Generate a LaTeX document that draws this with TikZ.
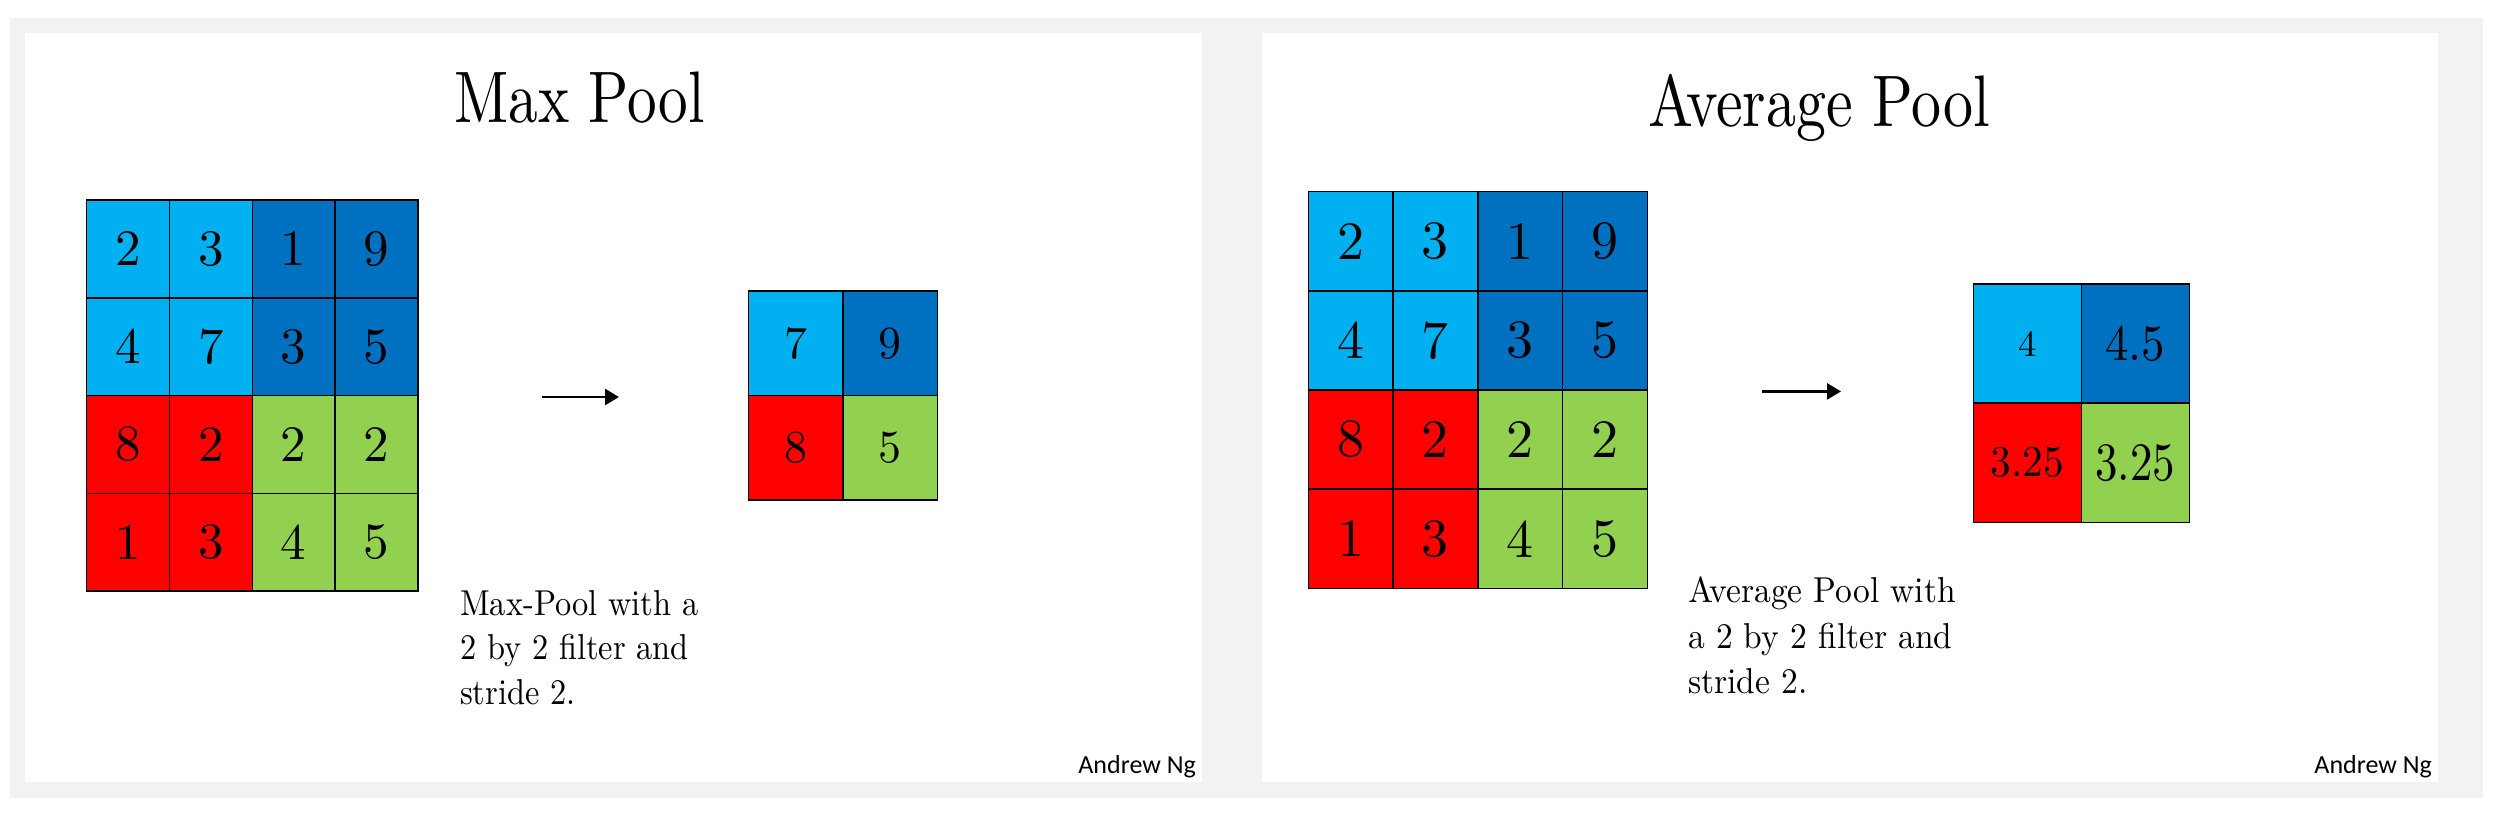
\documentclass[tikz,border=0pt]{standalone}
\usepackage{fontspec}
\usepackage{graphicx}
\setmainfont{lmroman10-regular.otf}
\newfontfamily\ngfont{Carlito}
\usetikzlibrary{arrows.meta}
\definecolor{lblue}{HTML}{00B0F0}
\definecolor{dblue}{HTML}{0070C0}
\definecolor{cred}{HTML}{FF0000}
\definecolor{cgreen}{HTML}{92D050}
\definecolor{bggray}{HTML}{F2F2F2}
\newcommand\fs[1]{\fontsize{#1}{#1}\selectfont}
\newcommand\sq[2]{\scalebox{#1}[1]{#2}}
\tikzset{
  cell/.style={draw=black, line width=1.5pt, inner sep=0pt, outer sep=0pt, anchor=center, text=black},
  title/.style={anchor=base, inner sep=0pt, font=\fs{73}},
  capt/.style={anchor=base west, inner sep=0pt, font=\fs{36}},
  sign/.style={anchor=base east, inner sep=0pt, font={\ngfont\fs{26}}},
  arr/.style={line width=2.6pt, -{Triangle[length=14pt,width=16pt]}}
}
% #1 prefix, #2 x0, #3 y0, #4 cell width, #5 cell height, #6 font size
\newcommand\biggrid[6]{%
  \foreach \v [count=\k from 0] in {2,3,1,9,4,7,3,5,8,2,2,2,1,3,4,5}{%
    \pgfmathtruncatemacro\rr{int(\k/4)}%
    \pgfmathtruncatemacro\cc{mod(\k,4)}%
    \pgfmathtruncatemacro\qq{2*int(\rr/2)+int(\cc/2)}%
    \ifcase\qq \def\col{lblue}\or\def\col{dblue}\or\def\col{cred}\or\def\col{cgreen}\fi
    \node[cell, fill=\col, minimum width=#4, minimum height=#5, font=\fs{#6}]
      (#1\rr\cc) at ({#2+(\cc+0.5)*#4},{#3+(\rr+0.5)*#5}) {\v};
  }%
}
\begin{document}
\begin{tikzpicture}[x=1pt,y=-1pt]
\useasboundingbox (0,0) rectangle (2503,813);
\fill[bggray] (10,18) rectangle (2483,798);
\fill[white] (25,33) rectangle (1202,782);
\fill[white] (1262,33) rectangle (2438,782);

% ---------- Max Pool ----------
\node[title] (t1) at (579.5,123) {\sq{0.81}{Max Pool}};
\biggrid{L}{86.7}{200}{82.8}{97.75}{51}
\node[cell, fill=lblue,  minimum width=94.7, minimum height=104.5, font=\fs{46}] (S00) at (795.65,343.25) {7};
\node[cell, fill=dblue,  minimum width=94.7, minimum height=104.5, font=\fs{46}] (S01) at (890.35,343.25) {9};
\node[cell, fill=cred,   minimum width=94.7, minimum height=104.5, font=\fs{46}] (S10) at (795.65,447.75) {8};
\node[cell, fill=cgreen, minimum width=94.7, minimum height=104.5, font=\fs{46}] (S11) at (890.35,447.75) {5};
\coordinate (a1s) at (542,397);
\coordinate (a1e) at (619,397);
\draw[arr] (a1s) -- (a1e);
\node[capt] (c1a) at (460,615)   {\sq{0.9}{Max-Pool with a}};
\node[capt] (c1b) at (460,659.3) {\sq{0.9}{2 by 2 filter and}};
\node[capt] (c1c) at (460,704)   {\sq{0.9}{stride 2.}};
\node[sign] (ng1) at (1196,773) {Andrew Ng};

% ---------- Average Pool ----------
\node[title] (t2) at (1819,127) {\sq{0.82}{Average Pool}};
\biggrid{R}{1308.3}{191.7}{84.75}{99.15}{54}
\node[cell, fill=lblue,  minimum width=108, minimum height=119.2, font=\fs{37}] (T00) at (2027.3,343.6) {4};
\node[cell, fill=dblue,  minimum width=108, minimum height=119.2, font=\fs{51}] (T01) at (2135.3,343.6) {\sq{0.92}{4.5}};
\node[cell, fill=cred,   minimum width=108, minimum height=119.2, font=\fs{44}] (T10) at (2027.3,462.8) {\sq{0.94}{3.25}};
\node[cell, fill=cgreen, minimum width=108, minimum height=119.2, font=\fs{54}] (T11) at (2135.3,462.8) {\sq{0.83}{3.25}};
\coordinate (a2s) at (1762,391.4);
\coordinate (a2e) at (1841,391.4);
\draw[arr] (a2s) -- (a2e);
\node[capt] (c2a) at (1688,602.7) {\sq{0.93}{Average Pool with}};
\node[capt] (c2b) at (1688,648.3) {\sq{0.93}{a 2 by 2 filter and}};
\node[capt] (c2c) at (1688,693.3) {\sq{0.93}{stride 2.}};
\node[sign] (ng2) at (2432,773) {Andrew Ng};
\end{tikzpicture}
\end{document}
